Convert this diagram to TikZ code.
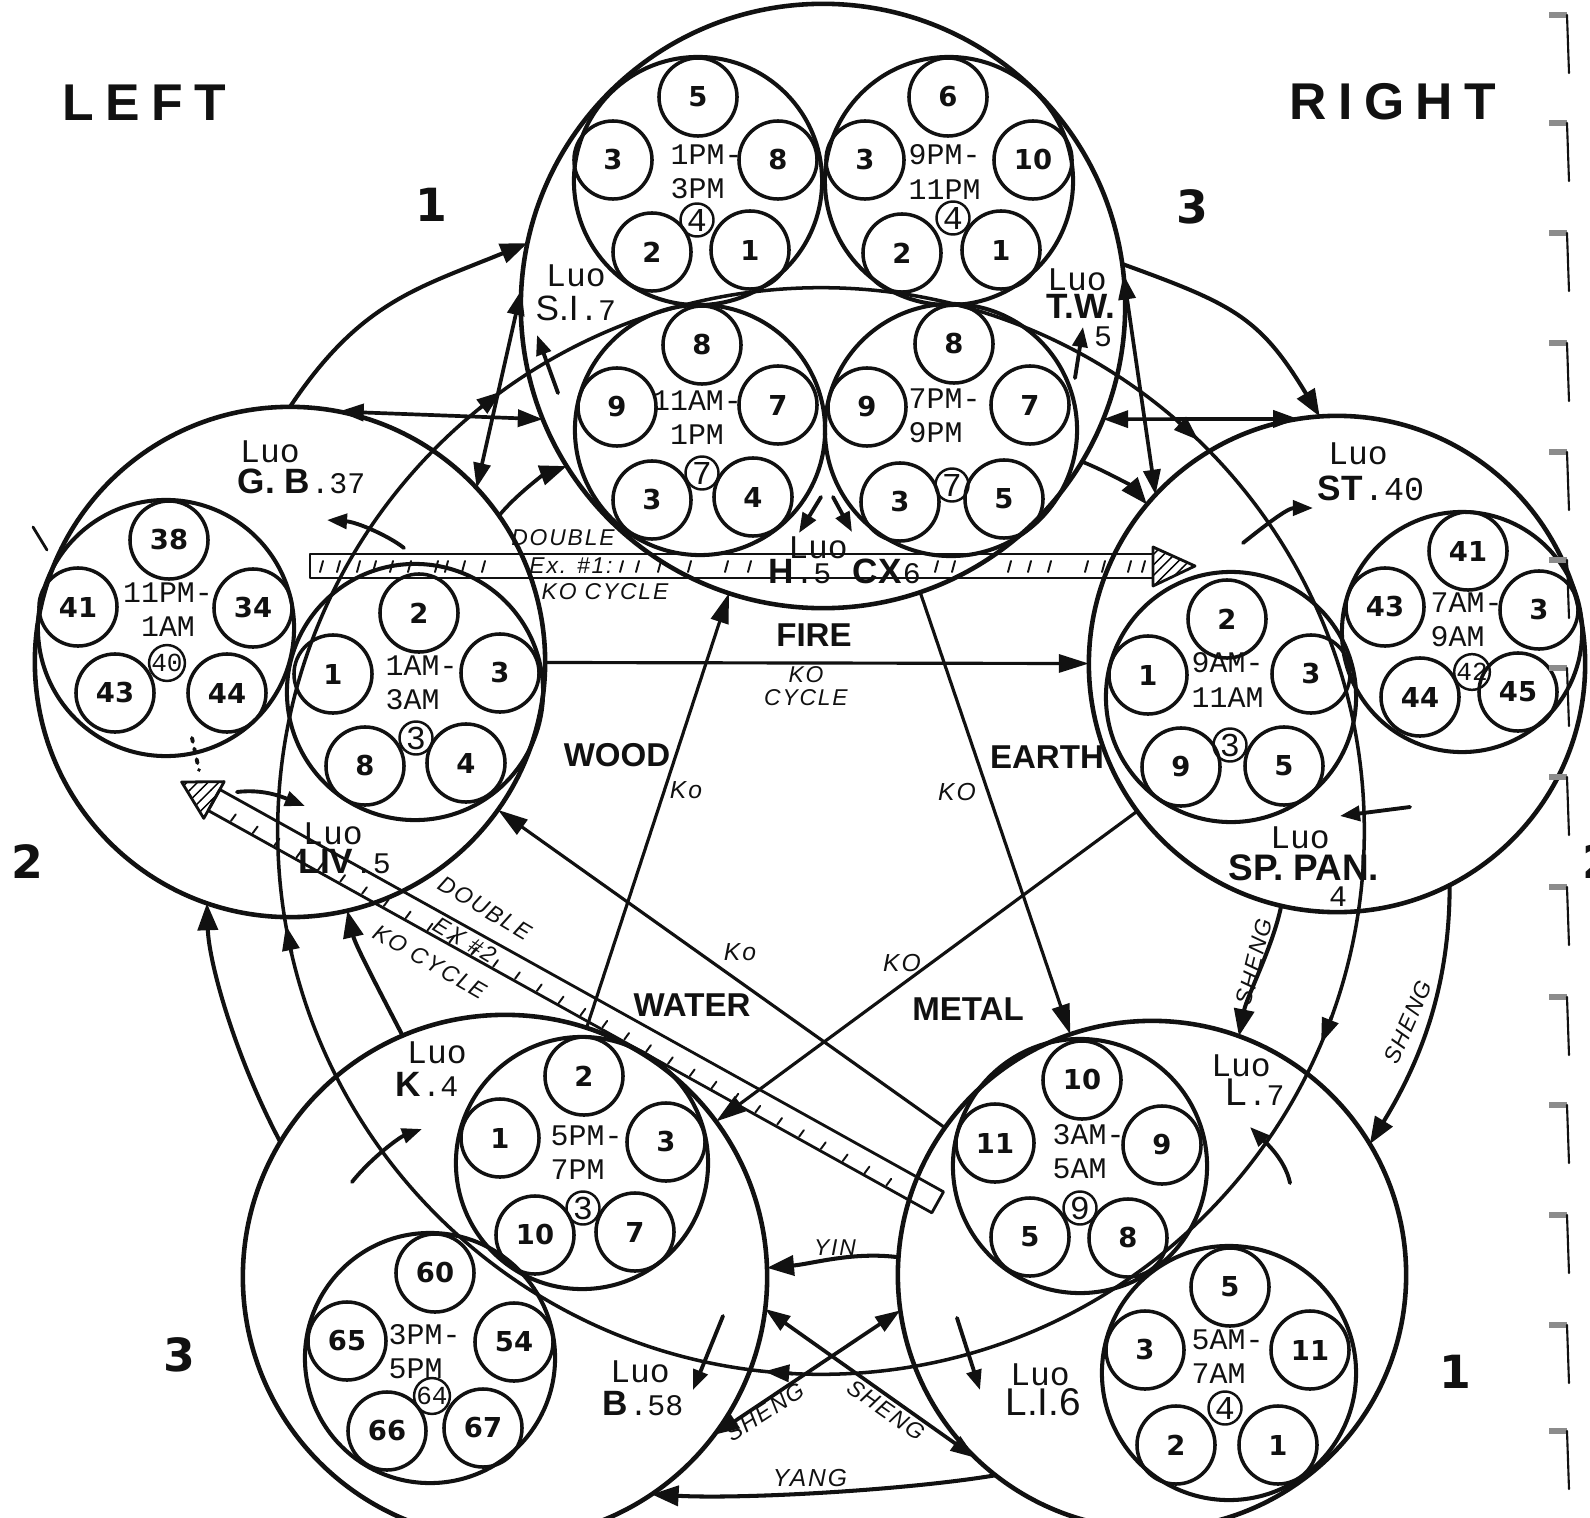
\documentclass[tikz,border=0pt]{standalone}
\usepackage{fontspec}
\setmainfont{Liberation Serif}
\newfontfamily\typefont{Liberation Mono}
\newfontfamily\letterfont{Liberation Sans}
\newfontfamily\digitfont{DejaVu Sans}
\newfontfamily\sidefont[LetterSpace=22]{Liberation Sans}
\newfontfamily\handfont[LetterSpace=8]{Liberation Sans}
\usepackage{tikz}
\usetikzlibrary{arrows.meta,patterns}
\definecolor{Ink}{HTML}{111111}
\definecolor{Smudge}{HTML}{8C8C8C}

\begin{document}
\begin{tikzpicture}[x=0.01cm,y=-0.01cm,line cap=round,line join=round,color=Ink,
  elem/.style={circle,draw,line width=1.3pt,inner sep=0pt,outer sep=0pt},
  organ/.style={circle,draw,line width=1.15pt,inner sep=0pt,outer sep=0pt,minimum size=2.5cm},
  acu/.style={circle,draw,line width=1pt,inner sep=0pt,minimum size=0.78cm,font=\digitfont\bfseries\fontsize{7.8}{8}\selectfont},
  hours/.style={font=\typefont\fontsize{8.5}{9.7}\selectfont,align=left,anchor=west,inner sep=0pt},
  tally/.style={circle,draw,line width=0.7pt,inner sep=0pt,minimum size=0.33cm,font=\typefont\fontsize{9.5}{10}\selectfont},
  luo/.style={font=\typefont\fontsize{9.4}{10}\selectfont,inner sep=0pt},
  abbr/.style={font=\letterfont\bfseries\fontsize{10}{11}\selectfont,inner sep=0pt,anchor=base west},
  sfx/.style={font=\typefont\fontsize{8.5}{9}\selectfont,inner sep=0pt,anchor=base west},
  elemname/.style={font=\letterfont\bfseries\fontsize{9.4}{10}\selectfont,inner sep=0pt},
  hand/.style={font=\handfont\itshape\fontsize{6.5}{6.6}\selectfont,inner sep=0pt,align=center},
  bignum/.style={font=\digitfont\bfseries\fontsize{13}{14}\selectfont,inner sep=0pt},
  sheng/.style={line width=1.15pt,-{Triangle[length=0.27cm,width=0.2cm]}},
  twoway/.style={line width=1.05pt,{Triangle[length=0.25cm,width=0.17cm]}-{Triangle[length=0.25cm,width=0.17cm]}},
  ko/.style={line width=0.9pt,-{Triangle[length=0.3cm,width=0.18cm]}},
  nudge/.style={line width=1.1pt,-{Triangle[length=0.2cm,width=0.15cm]}},
  ringtip/.style={line width=1pt,-{Triangle[length=0.25cm,width=0.17cm]}},
  exbar/.style={line width=0.8pt},
  hatchmark/.style={line width=0.55pt}]
\fill[white] (0,0) rectangle (1590,1518);
\useasboundingbox (0,0) rectangle (1590,1518);

% sides and counts
\node[font=\sidefont\bfseries\fontsize{14.7}{15}\selectfont] (leftside) at (144,103) {LEFT};
\node[font=\sidefont\bfseries\fontsize{14.7}{15}\selectfont] (rightside) at (1393,102) {RIGHT};
\node[bignum] (count-a) at (431,205) {1};
\node[bignum] (count-b) at (1192,207) {3};
\node[bignum] (count-c) at (27,862) {2};
\node[bignum] (count-d) at (1598,862) {2};
\node[bignum] (count-e) at (179,1355) {3};
\node[bignum] (count-f) at (1455,1372) {1};

% element circles and the meridian ring
\node[elem,minimum size=6.04cm] (fire) at (823,306) {};
\node[elem,minimum size=5.1cm] (wood) at (290,662) {};
\node[elem,minimum size=4.96cm] (earth) at (1337,664) {};
\node[elem,minimum size=5.24cm] (water) at (505,1277) {};
\node[elem,minimum size=5.08cm] (metal) at (1152,1275) {};
\node[circle,draw,line width=1pt,inner sep=0pt,outer sep=0pt,minimum size=10.86cm] (ring) at (821,831) {};

% organ circles
\node[organ,minimum size=2.48cm] (si) at (698,181) {};
\node[organ,minimum size=2.48cm] (tw) at (949,181) {};
\node[organ] (ht) at (700,430) {};
\node[organ,minimum size=2.52cm] (cx) at (951,430) {};
\node[organ,minimum size=2.56cm] (gb) at (166,628) {};
\node[organ,minimum size=2.56cm] (liv) at (415,692) {};
\node[organ] (sp) at (1231,697) {};
\node[organ,minimum size=2.4cm] (st) at (1462,632) {};
\node[organ,minimum size=2.52cm] (ki) at (582,1163) {};
\node[organ] (bl) at (430,1358) {};
\node[organ,minimum size=2.54cm] (li) at (1080,1166) {};
\node[organ,minimum size=2.54cm] (lu) at (1229,1373) {};

% points
\foreach \x/\y/\n in {698/97/5,613/160/3,778/160/8,652/252/2,750/250/1}
  \node[acu] (si\n) at (\x,\y) {\n};
\foreach \x/\y/\n in {948/97/6,865/160/3,1033/160/10,902/253/2,1001/250/1}
  \node[acu] (tw\n) at (\x,\y) {\n};
\foreach \x/\y/\n in {702/345/8,617/407/9,778/405/7,652/500/3,753/497/4}
  \node[acu] (ht\n) at (\x,\y) {\n};
\foreach \x/\y/\n in {954/344/8,867/407/9,1030/405/7,900/502/3,1004/499/5}
  \node[acu] (cx\n) at (\x,\y) {\n};
\foreach \x/\y/\n in {169/540/38,78/607/41,253/608/34,115/693/43,227/693/44}
  \node[acu] (gb\n) at (\x,\y) {\n};
\foreach \x/\y/\n in {419/613/2,333/674/1,500/673/3,365/766/8,466/763/4}
  \node[acu] (liv\n) at (\x,\y) {\n};
\foreach \x/\y/\n in {1227/619/2,1148/675/1,1311/674/3,1181/767/9,1284/766/5}
  \node[acu] (sp\n) at (\x,\y) {\n};
\foreach \x/\y/\n in {1468/551/41,1385/607/43,1539/610/3,1420/697/44,1518/692/45}
  \node[acu] (st\n) at (\x,\y) {\n};
\foreach \x/\y/\n in {584/1076/2,500/1138/1,666/1142/3,535/1235/10,635/1232/7}
  \node[acu] (ki\n) at (\x,\y) {\n};
\foreach \x/\y/\n in {435/1273/60,347/1341/65,514/1342/54,387/1431/66,483/1428/67}
  \node[acu] (bl\n) at (\x,\y) {\n};
\foreach \x/\y/\n in {1082/1080/10,995/1143/11,1162/1145/9,1030/1237/5,1128/1238/8}
  \node[acu] (li\n) at (\x,\y) {\n};
\foreach \x/\y/\n in {1230/1287/5,1145/1350/3,1310/1350/11,1176/1445/2,1278/1445/1}
  \node[acu] (lu\n) at (\x,\y) {\n};

% hours
\node[hours] (sihours) at (670,172) {1PM-\\3PM};
\node[hours] (twhours) at (908,172) {9PM-\\11PM};
\node[hours,anchor=center,align=center] (hthours) at (697,418) {11AM-\\1PM};
\node[hours] (cxhours) at (908,416) {7PM-\\9PM};
\node[hours,anchor=center,align=center] (gbhours) at (168,610) {11PM-\\1AM};
\node[hours] (livhours) at (385,683) {1AM-\\3AM};
\node[hours] (sphours) at (1191,680) {9AM-\\11AM};
\node[hours] (sthours) at (1430,620) {7AM-\\9AM};
\node[hours] (kihours) at (550,1153) {5PM-\\7PM};
\node[hours] (blhours) at (388,1352) {3PM-\\5PM};
\node[hours] (lihours) at (1052,1152) {3AM-\\5AM};
\node[hours] (luhours) at (1191,1357) {5AM-\\7AM};

% circled counts
\node[tally] (sitally) at (697,220) {4};
\node[tally] (twtally) at (953,218) {4};
\node[tally] (httally) at (702,473) {7};
\node[tally] (cxtally) at (952,485) {7};
\node[tally,font=\typefont\fontsize{7.4}{8}\selectfont] (gbtally) at (167,663) {40};
\node[tally] (livtally) at (416,738) {3};
\node[tally] (sptally) at (1230,745) {3};
\node[tally,font=\typefont\fontsize{7.4}{8}\selectfont] (sttally) at (1472,672) {42};
\node[tally] (kitally) at (583,1208) {3};
\node[tally,font=\typefont\fontsize{7.4}{8}\selectfont] (bltally) at (432,1396) {64};
\node[tally] (litally) at (1080,1208) {9};
\node[tally] (lutally) at (1225,1408) {4};

% luo labels
\node[luo] (gbluo) at (270,452) {Luo};
\node[abbr] (gbname) at (237,493) {G. B};
\node[sfx] (gbnum) at (gbname.base east) {.37};
\node[luo] (siluo) at (576,276) {Luo};
\node[abbr,font=\letterfont\fontsize{10}{11}\selectfont] (siname) at (535,320) {S.I};
\node[sfx] (sinum) at (siname.base east) {.7};
\node[luo] (twluo) at (1077,280) {Luo};
\node[abbr] (twname) at (1046,318) {T.W.};
\node[sfx,anchor=center] (twnum) at (1103,337) {5};
\node[luo] (stluo) at (1358,454) {Luo};
\node[abbr] (stname) at (1317,500) {ST};
\node[sfx,font=\typefont\fontsize{9.5}{10}\selectfont] (stnum) at (stname.base east) {.40};
\node[luo] (spluo) at (1300,838) {Luo};
\node[abbr,font=\letterfont\bfseries\fontsize{10.5}{11}\selectfont] (spname) at (1228,880) {SP. PAN.};
\node[sfx,anchor=center] (spnum) at (1338,897) {4};
\node[luo] (livluo) at (333,834) {Luo};
\node[abbr] (livname) at (298,873) {LIV};
\node[sfx] (livnum) at (livname.base east) {.5};
\node[luo] (hluo) at (818,548) {Luo};
\node[abbr] (hname) at (768,583) {H};
\node[sfx] (hnum) at (hname.base east) {.5};
\node[abbr] (cxname) at (852,583) {CX};
\node[sfx] (cxnum) at (cxname.base east) {6};
\node[luo] (kluo) at (437,1053) {Luo};
\node[abbr] (kname) at (395,1096) {K};
\node[sfx] (knum) at (kname.base east) {.4};
\node[luo] (blluo) at (640,1372) {Luo};
\node[abbr] (blname) at (602,1415) {B};
\node[sfx] (blnum) at (blname.base east) {.58};
\node[luo] (liluo) at (1040,1375) {Luo};
\node[abbr,font=\letterfont\fontsize{11}{12}\selectfont] (liname) at (1005,1415) {L.I.6};
\node[luo] (luluo) at (1241,1066) {Luo};
\node[abbr,font=\letterfont\fontsize{11}{12}\selectfont] (luname) at (1225,1105) {L};
\node[sfx] (lunum) at (luname.base east) {.7};

% element names
\node[elemname] (firename) at (814,635) {FIRE};
\node[elemname] (woodname) at (617,755) {WOOD};
\node[elemname] (earthname) at (1047,757) {EARTH};
\node[elemname] (watername) at (692,1005) {WATER};
\node[elemname] (metalname) at (968,1009) {METAL};
\node[hand] (kocycle) at (806,686) {KO\\CYCLE};

% ko cycle
\draw[ko] (wood) -- (earth);
\draw[ko] (fire) -- (metal);
\draw[ko] (earth) -- (water);
\draw[ko] (water) -- (fire);
\draw[ko] (metal) -- (wood);
\node[hand,font=\handfont\itshape\fontsize{7}{7}\selectfont] (ko-a) at (686,790) {Ko};
\node[hand,font=\handfont\itshape\fontsize{7}{7}\selectfont] (ko-b) at (740,952) {Ko};
\node[hand,font=\handfont\itshape\fontsize{7}{7}\selectfont] (ko-c) at (957,792) {KO};
\node[hand,font=\handfont\itshape\fontsize{7}{7}\selectfont] (ko-d) at (902,963) {KO};

% sheng cycle, outer
\draw[sheng] (wood.90) .. controls +(70,-105) and +(-110,45) .. (fire.168);
\draw[sheng] (fire.8) .. controls +(110,40) and +(-60,-100) .. (earth.94);
\draw[sheng] (earth.-63) .. controls +(0,95) and +(55,-90) .. (metal.31);
\draw[sheng] (earth.-103) .. controls +(-8,40) and +(8,-40) .. (metal.70);
\draw[sheng] (metal.-128) .. controls +(-90,15) and +(90,5) .. (water.-56);
\draw[sheng] (metal.176) .. controls +(-45,-6) and +(45,-4) .. (water.2);
\draw[sheng] (water.149) .. controls +(-45,-85) and +(2,60) .. (wood.-109);
\draw[sheng] (water.113) .. controls +(-18,-35) and +(8,35) .. (wood.-77);
\node[hand,rotate=66] (sheng-a) at (1408,1022) {SHENG};
\node[hand,rotate=76] (sheng-b) at (1254,962) {SHENG};
\node[hand,rotate=33] (sheng-c) at (765,1412) {SHENG};
\node[hand,rotate=-35] (sheng-d) at (886,1410) {SHENG};
\node[hand] (yin) at (835,1248) {YIN};
\node[hand,font=\handfont\itshape\fontsize{7}{7}\selectfont] (yang) at (810,1478) {YANG};

% two-way links
\draw[twoway] (wood.79) -- (fire.202);
\draw[twoway] (wood.43) -- (fire.177);
\draw[twoway] (fire.-22) -- (earth.99);
\draw[twoway] (fire.6) -- (earth.137);
\draw[twoway] (water.-37) -- (metal.-172);
\draw[twoway] (water.-7) -- (metal.-134);
\draw[sheng,line width=1.05pt] (wood.35) .. controls +(18,-22) and +(-22,8) .. (fire.212);
\draw[sheng,line width=1.05pt] (fire.-31) .. controls +(25,10) and +(-15,-18) .. (earth.140);

% ring arrows
\draw[ringtip] (ring.129) -- (ring.126);
\draw[ringtip] (ring.49) -- (ring.46);
\draw[ringtip] (ring.-20) -- (ring.-23);
\draw[ringtip] (ring.-93) -- (ring.-96);
\draw[ringtip] (ring.193) -- (ring.190);

% luo pointers
\coordinate (gbfrom) at (404,548);   \coordinate (gbto) at (327,520);
\coordinate (livfrom) at (237,792);  \coordinate (livto) at (305,806);
\coordinate (sifrom) at (558,393);   \coordinate (sito) at (537,335);
\coordinate (twfrom) at (1075,378);  \coordinate (twto) at (1083,327);
\coordinate (hfrom) at (821,497);    \coordinate (hto) at (799,533);
\coordinate (cxfrom) at (833,497);   \coordinate (cxto) at (852,532);
\coordinate (stfrom) at (1243,543);  \coordinate (stto) at (1313,508);
\coordinate (spfrom) at (1410,807);  \coordinate (spto) at (1340,816);
\coordinate (kfrom) at (352,1182);   \coordinate (kto) at (422,1129);
\coordinate (blfrom) at (723,1316);  \coordinate (blto) at (693,1390);
\coordinate (lifrom) at (957,1318);  \coordinate (lito) at (980,1390);
\coordinate (lufrom) at (1290,1183); \coordinate (luto) at (1250,1127);
\draw[nudge] (gbfrom) .. controls +(-15,-12) and +(30,2) .. (gbto);
\draw[nudge] (livfrom) .. controls +(25,-3) and +(-25,-10) .. (livto);
\draw[nudge] (sifrom) -- (sito);
\draw[nudge] (twfrom) -- (twto);
\draw[nudge] (hfrom) -- (hto);
\draw[nudge] (cxfrom) -- (cxto);
\draw[nudge] (stfrom) .. controls +(25,-20) and +(-25,0) .. (stto);
\draw[nudge] (spfrom) -- (spto);
\draw[nudge] (kfrom) .. controls +(20,-25) and +(-22,8) .. (kto);
\draw[nudge] (blfrom) -- (blto);
\draw[nudge] (lifrom) -- (lito);
\draw[nudge] (lufrom) .. controls +(-5,-25) and +(12,12) .. (luto);

% double ex #1
\draw[exbar] (310,554) rectangle (1153,578);
\draw[exbar,pattern=north east lines] (1153,547) -- (1195,566) -- (1153,586) -- cycle;
\foreach \t in {320,337,357,373,390,408,435,445,462,482,620,636,658,688,725,748,935,952,1008,1028,1048,1085,1102,1128,1142}
  \draw[hatchmark] (\t,572) -- (\t+3,561);
\node[hand] (ex1top) at (563,538) {DOUBLE};
\node[hand] (ex1mid) at (571,566) {Ex. \#1:};
\node[hand] (ex1low) at (605,592) {KO CYCLE};

% double ex #2
\begin{scope}[shift={(214,800)},rotate=-29.07]
  \draw[exbar] (0,-12) rectangle (828,12);
  \draw[exbar,pattern=north east lines] (0,-21) -- (-37,0) -- (0,21) -- cycle;
  \foreach \t in {25,50,...,800}
    \draw[hatchmark] (\t,10) -- (\t+1,2);
\end{scope}
\node[hand,rotate=-31] (ex2top) at (485,908) {DOUBLE};
\node[hand,rotate=-31] (ex2mid) at (465,940) {EX \#2};
\node[hand,rotate=-30] (ex2low) at (430,962) {KO CYCLE};

% stray pen marks
\draw[line width=0.8pt] (33,527) -- (47,550);
\draw[dotted,line width=1.1pt] (192,738) -- (199,770);

% page edge marks
\foreach \y in {15,123,233,343,452,560,668,777,887,997,1105,1215,1325,1431} {
  \fill[Smudge] (1549,\y-3) rectangle (1567,\y+3);
  \draw[line width=0.6pt] (1567,\y) -- (1569,\y+58);
}
\end{tikzpicture}
\end{document}
